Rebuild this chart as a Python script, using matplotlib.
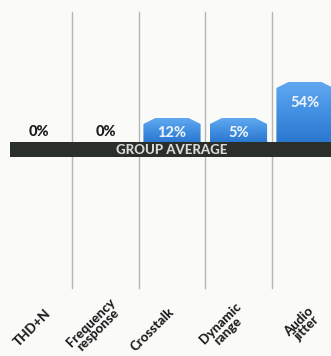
import matplotlib
matplotlib.use("Agg")
import matplotlib.pyplot as plt
import numpy as np
from matplotlib.patches import Polygon, Rectangle
from matplotlib.colors import LinearSegmentedColormap

categories = ["THD+N", "Frequency\nresponse", "Crosstalk", "Dynamic\nrange", "Audio\njitter"]
values = [0, 0, 12, 5, 54]
# displayed bar heights (chart units, bars are not drawn to scale in the original)
bar_heights = [0, 0, 24, 24, 60]
label_text = [f"{v}%" for v in values]

W, H = 331, 356
fig = plt.figure(figsize=(W / 100, H / 100), dpi=100)
bg = "#fafaf8"
fig.patch.set_facecolor(bg)
ax = fig.add_axes([0, 0, 1, 1])
ax.set_facecolor(bg)
col_w = 66.5
x0px = 39
ax.set_xlim(-x0px / col_w, (W - x0px) / col_w)
# y: 0 at top of the group average band (pixel row 142), 1 unit = 1 px
ax.set_ylim(-(H - 142), 142)
ax.axis("off")

font = ["Lato", "DejaVu Sans"]

# vertical separators
for i in range(len(categories) - 1):
    ax.plot([i + 0.5, i + 0.5], [142 - 288, 142 - 12], color="#b5b5b5", lw=1.0, zorder=1)

grad = np.linspace(0, 1, 256).reshape(-1, 1)
cmap = LinearSegmentedColormap.from_list("b", ["#2b78d0", "#4290e2", "#62a8f0"])

bw = 0.86
for i, h in enumerate(bar_heights):
    if h <= 0:
        continue
    l, r = i - bw / 2, i + bw / 2
    cut = 0.18
    shoulder = h - 6
    pts = [(l, 0), (l, shoulder), (l + cut, h), (r - cut, h), (r, shoulder), (r, 0)]
    poly = Polygon(pts, closed=True, facecolor="none", edgecolor="none")
    ax.add_patch(poly)
    im = ax.imshow(grad, extent=[l, r, 0, h], origin="lower", cmap=cmap,
                   aspect="auto", zorder=2)
    im.set_clip_path(poly)

# value labels
for i, (h, t) in enumerate(zip(bar_heights, label_text)):
    if h <= 0:
        ax.text(i, 10, t, ha="center", va="center", fontsize=10.5, fontweight="black",
                color="#1a1a1a", family=font, zorder=4)
    else:
        ax.text(i, 9 if h < 40 else h - 21, t, ha="center", va="center",
                fontsize=10.5, fontweight="black", color="#e8f1fb", family=font, zorder=4)

# group average band
ax.add_patch(Rectangle((-(x0px - 10) / col_w, -15), 10, 15, facecolor="#2a2f2b",
                       edgecolor="none", zorder=3))
ax.text(2, -7.5, "GROUP AVERAGE", ha="center", va="center", fontsize=9.5,
        fontweight="black", color="#d9d9d6", family=font, zorder=4)

# category labels
offsets_px = [(-7, 186), (-11, 184), (-20, 188), (-14, 185), (-2, 183)]
for i, (c, (dx, dy)) in enumerate(zip(categories, offsets_px)):
    ax.text(i + dx / col_w, -dy, c, rotation=45, ha="center", va="center",
            fontsize=9.5, fontweight="black", color="#1e1e1e", family=font,
            linespacing=0.85, multialignment="center")

fig.savefig("out.png", dpi=100, facecolor=bg)
